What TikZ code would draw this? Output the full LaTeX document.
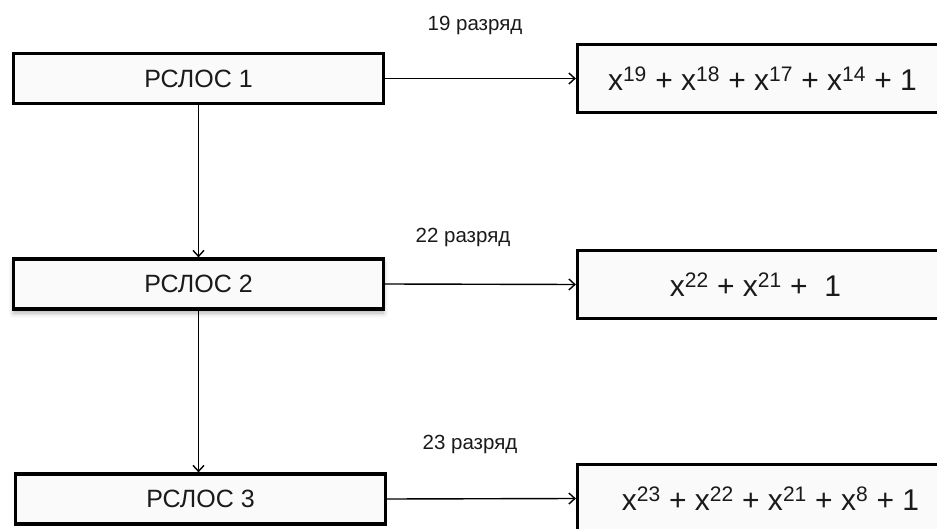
\documentclass[tikz,border=0pt]{standalone}
\usepackage{fontspec}
\setmainfont{Liberation Sans}
\usetikzlibrary{arrows.meta,shadows.blur}
\definecolor{boxfill}{HTML}{FAFAFA}
\definecolor{txt}{HTML}{1A1A1A}
\tikzset{
  lbox/.style={draw=black, line width=3.2pt, fill=boxfill, minimum width=370pt, minimum height=50pt, inner sep=0pt, font=\fontsize{25}{29}\selectfont, text=txt},
  rbox/.style={draw=black, line width=3.2pt, fill=boxfill, minimum width=370pt, minimum height=68pt, inner sep=0pt, font=\fontsize{30}{34}\selectfont, text=txt},
  conn/.style={line width=1.4pt, -{Straight Barb[length=6pt,width=11pt,line width=1.4pt]}},
  lab/.style={font=\fontsize{20.5}{24}\selectfont, text=txt, inner sep=0pt}
}
\begin{document}
\begin{tikzpicture}[x=1pt,y=-1pt]
\useasboundingbox (0,0) rectangle (937,529);
\clip (0,0) rectangle (937,529);
\node[lbox] (b1) at (198.5,78.5) {РСЛОС 1};
\node[lbox, blur shadow={shadow xshift=0pt, shadow yshift=-4pt, shadow blur radius=5pt, shadow opacity=30}] (b2) at (198.5,284) {РСЛОС 2};
\node[lbox] (b3) at (200.5,499) {РСЛОС 3};
\node[rbox] (r1) at (762.5,78.5) {x\textsuperscript{19} + x\textsuperscript{18} + x\textsuperscript{17} + x\textsuperscript{14} + 1};
\node[rbox] (r2) at (762.5,284.5) {\hspace*{-14pt}x\textsuperscript{22} + x\textsuperscript{21} + \ 1};
\node[rbox] (r3) at (762.5,498.5) {\hspace*{16pt}x\textsuperscript{23} + x\textsuperscript{22} + x\textsuperscript{21} + x\textsuperscript{8} + 1};
\node[lab] (l1) at (475,25) {19 разряд};
\node[lab] (l2) at (463,237) {22 разряд};
\node[lab] (l3) at (470,444) {23 разряд};
\draw[conn] (b1.east) -- (r1.west);
\draw[conn] (b2.east) -- (r2.west);
\draw[conn] (b3.east) -- (r3.west);
\draw[conn] (b1.south) -- (b2.north);
\draw[conn] (b2.south) -- (b2.south |- b3.north);
\end{tikzpicture}
\end{document}
